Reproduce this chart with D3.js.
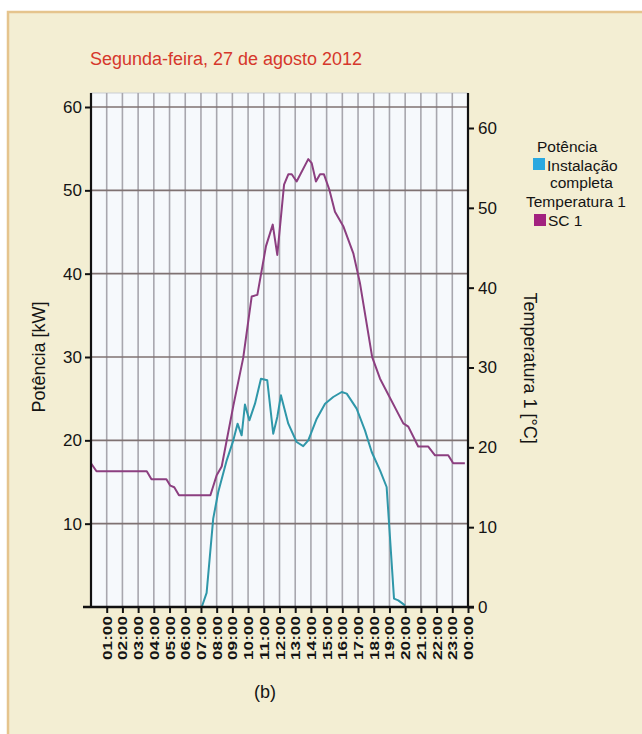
<!DOCTYPE html>
<html>
<head>
<meta charset="utf-8">
<script src="https://cdn.jsdelivr.net/npm/d3@7"></script>
<style>
  html, body { margin: 0; padding: 0; background: #ffffff; }
  svg { display: block; }
  text { font-family: "Liberation Sans", Arial, sans-serif; }
</style>
</head>
<body>
<svg id="chart" width="642" height="734"></svg>
<script>
// Hours of the day (0 = 00:00 .. 24 = next 00:00)
const hourTicks = d3.range(1, 25);
const hourLabels = ["01:00","02:00","03:00","04:00","05:00","06:00","07:00","08:00","09:00","10:00","11:00","12:00",
                    "13:00","14:00","15:00","16:00","17:00","18:00","19:00","20:00","21:00","22:00","23:00","00:00"];
const leftTicks = [10, 20, 30, 40, 50, 60];
const rightTicks = [0, 10, 20, 30, 40, 50, 60];

// Potência – Instalação completa [kW]
const powerHours = [7.05, 7.36, 7.78, 8.1, 8.64, 9.06, 9.33, 9.59, 9.8, 10.08, 10.44, 10.82, 11.22, 11.6, 11.86,
                    12.09, 12.56, 13.09, 13.51, 13.83, 14.37, 14.9, 15.42, 15.96, 16.28, 16.91, 17.44, 17.87,
                    18.4, 18.82, 18.99, 19.29, 19.56, 19.99];
const powerValues = [0, 1.7, 10.6, 13.8, 17.6, 20.0, 22.0, 20.6, 24.3, 22.4, 24.4, 27.4, 27.2, 20.8, 22.8,
                     25.4, 22.0, 19.8, 19.3, 20.0, 22.6, 24.4, 25.2, 25.8, 25.6, 23.8, 21.2, 18.6,
                     16.4, 14.4, 9.6, 1.0, 0.8, 0.2];

// Temperatura 1 – SC 1 [°C]
const tempHours = [0, 0.35, 3.55, 3.85, 4.8, 5.05, 5.3, 5.6, 7.6, 8.0, 8.32, 9.06, 9.69, 10.23, 10.59, 11.14,
                   11.57, 11.86, 12.29, 12.56, 12.78, 13.09, 13.83, 14.05, 14.32, 14.58, 14.83, 15.17, 15.53,
                   16.06, 16.7, 17.12, 17.9, 18.4, 19.88, 20.2, 20.83, 21.47, 21.9, 22.74, 23.06, 23.8];
const tempValues = [18.0, 17.0, 17.0, 16.0, 16.0, 15.2, 15.0, 14.0, 14.0, 16.5, 17.6, 25.2, 31.2, 38.9, 39.1, 45.2,
                    47.9, 44.1, 52.9, 54.2, 54.2, 53.3, 56.1, 55.6, 53.3, 54.2, 54.2, 52.3, 49.5,
                    47.7, 44.3, 40.6, 31.3, 28.6, 23.0, 22.6, 20.1, 20.1, 19.0, 19.0, 18.0, 18.0];

const svg = d3.select("#chart");
const ink = "#141414";

// Framed beige panel
svg.append("rect")
  .attr("x", 8).attr("y", 12).attr("width", 700).attr("height", 800)
  .attr("fill", "#f3eed3").attr("stroke", "#e5c48d").attr("stroke-width", 2.5);

const plot = { left: 91, right: 468, top: 93, bottom: 607 };

const x = d3.scaleLinear().domain([0, 24]).range([plot.left, plot.right]);
const yL = d3.scaleLinear().domain([0, 60]).range([plot.bottom, 107]);
const yR = d3.scaleLinear().domain([0, 60]).range([plot.bottom, 128]);

// Plot background
svg.append("rect")
  .attr("x", plot.left).attr("y", plot.top)
  .attr("width", plot.right - plot.left).attr("height", plot.bottom - plot.top)
  .attr("fill", "#f6f9fc").attr("stroke", "#c9cdd3").attr("stroke-width", 1);

// Vertical hourly grid
svg.append("g").selectAll("line")
  .data(d3.range(1, 24))
  .join("line")
  .attr("x1", d => x(d)).attr("x2", d => x(d))
  .attr("y1", plot.top).attr("y2", plot.bottom)
  .attr("stroke", "#a8a7ae").attr("stroke-width", 1.6);

// Horizontal grid on the power axis
svg.append("g").selectAll("line")
  .data(leftTicks)
  .join("line")
  .attr("x1", plot.left).attr("x2", plot.right)
  .attr("y1", d => yL(d)).attr("y2", d => yL(d))
  .attr("stroke", "#7f7272").attr("stroke-width", 1.6);

// Temperature line (right axis)
const tempLine = d3.line()
  .x((d, i) => x(tempHours[i]))
  .y(d => yR(d));
svg.append("path")
  .attr("d", tempLine(tempValues))
  .attr("fill", "none").attr("stroke", "#8c3f80").attr("stroke-width", 2)
  .attr("stroke-linejoin", "round");

// Power line (left axis)
const powerLine = d3.line()
  .x((d, i) => x(powerHours[i]))
  .y(d => yL(d));
svg.append("path")
  .attr("d", powerLine(powerValues))
  .attr("fill", "none").attr("stroke", "#2f97a9").attr("stroke-width", 2)
  .attr("stroke-linejoin", "round");

// Left axis
const leftAxis = svg.append("g")
  .attr("transform", `translate(${plot.left},0)`)
  .call(d3.axisLeft(yL).tickValues(leftTicks).tickSize(6).tickPadding(3).tickFormat(d3.format("d")));
leftAxis.select(".domain").attr("d", `M0,${plot.top}V${plot.bottom}`).attr("stroke", "#111").attr("stroke-width", 2.2);
leftAxis.selectAll(".tick line").attr("stroke", "#111").attr("stroke-width", 2);
leftAxis.selectAll(".tick text").attr("font-size", 17).attr("fill", ink)
  .style("font-family", "'Liberation Sans', Arial, sans-serif");

// Right axis
const rightAxis = svg.append("g")
  .attr("transform", `translate(${plot.right},0)`)
  .call(d3.axisRight(yR).tickValues(rightTicks).tickSize(6).tickPadding(4).tickFormat(d3.format("d")));
rightAxis.select(".domain").attr("d", `M0,${plot.top}V${plot.bottom}`).attr("stroke", "#111").attr("stroke-width", 2.2);
rightAxis.selectAll(".tick line").attr("stroke", "#111").attr("stroke-width", 2);
rightAxis.selectAll(".tick text").attr("font-size", 17).attr("fill", ink)
  .style("font-family", "'Liberation Sans', Arial, sans-serif");

// Bottom hour axis
const bottomAxis = svg.append("g")
  .attr("transform", `translate(0,${plot.bottom})`)
  .call(d3.axisBottom(x).tickValues(hourTicks).tickSize(6).tickFormat((d, i) => hourLabels[i]));
bottomAxis.select(".domain").attr("d", `M${plot.left - 8},0H${plot.right + 6}`).attr("stroke", "#111").attr("stroke-width", 2.6);
bottomAxis.selectAll(".tick line").attr("stroke", "#111").attr("stroke-width", 2);
bottomAxis.selectAll(".tick text")
  .attr("transform", "rotate(-90)")
  .attr("x", -9).attr("y", 0).attr("dy", "0.36em")
  .attr("text-anchor", "end")
  .attr("font-size", 12.5).attr("font-weight", "bold").attr("fill", ink)
  .attr("textLength", 44).attr("lengthAdjust", "spacingAndGlyphs")
  .style("font-family", "'Liberation Sans', Arial, sans-serif");

// Title
svg.append("text")
  .attr("x", 90).attr("y", 65)
  .attr("font-size", 18).attr("fill", "#d6372b")
  .attr("textLength", 272).attr("lengthAdjust", "spacingAndGlyphs")
  .text("Segunda-feira, 27 de agosto 2012");

// Axis titles
svg.append("text")
  .attr("transform", "translate(45,357) rotate(-90)")
  .attr("text-anchor", "middle").attr("font-size", 18).attr("fill", ink)
  .text("Potência [kW]");
svg.append("text")
  .attr("transform", "translate(524,368) rotate(90)")
  .attr("text-anchor", "middle").attr("font-size", 18).attr("fill", ink)
  .text("Temperatura 1 [°C]");

// Panel caption
svg.append("text")
  .attr("x", 265).attr("y", 698)
  .attr("text-anchor", "middle").attr("font-size", 18).attr("fill", ink)
  .text("(b)");

// Legend
const legend = svg.append("g").attr("font-size", 15.5).attr("fill", ink);
legend.append("text").attr("x", 537).attr("y", 152).text("Potência");
legend.append("rect").attr("x", 533).attr("y", 158).attr("width", 12).attr("height", 12).attr("fill", "#2aa8e0");
legend.append("text").attr("x", 547).attr("y", 171).text("Instalação");
legend.append("text").attr("x", 550).attr("y", 188).text("completa");
legend.append("text").attr("x", 526).attr("y", 207).text("Temperatura 1");
legend.append("rect").attr("x", 534).attr("y", 214).attr("width", 12).attr("height", 12).attr("fill", "#a2217f");
legend.append("text").attr("x", 548).attr("y", 226).text("SC 1");
</script>
</body>
</html>
